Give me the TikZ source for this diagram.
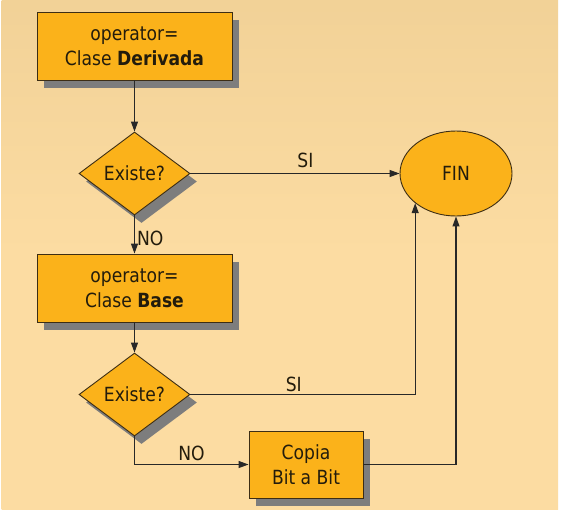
\documentclass[tikz,border=0pt]{standalone}
\usepackage{fontspec}
\setmainfont{DejaVu Sans}[FakeStretch=0.88]
\usetikzlibrary{shapes.geometric,shadows,arrows.meta}
\definecolor{bgtop}{RGB}{231,199,140}
\definecolor{bgmid}{RGB}{252,220,162}
\definecolor{bgbot}{RGB}{255,243,224}
\definecolor{boxfill}{RGB}{251,178,26}
\definecolor{edge}{RGB}{60,45,20}
\definecolor{shadowgray}{RGB}{125,125,125}
\definecolor{txt}{RGB}{35,28,12}
\definecolor{linec}{RGB}{40,40,40}
\pgfdeclareverticalshading{bgshade}{100bp}{color(0bp)=(bgbot); color(7bp)=(bgmid); color(50bp)=(bgmid); color(100bp)=(bgtop)}
\tikzset{
  shapebase/.style={draw=edge, fill=boxfill, line width=0.9pt, inner sep=0pt, text=txt,
    align=center, font=\fontsize{19.5}{25}\selectfont},
  shadowed/.style={drop shadow={shadow xshift=7pt, shadow yshift=-8pt, fill=shadowgray, opacity=1}},
  procbox/.style={shapebase, shadowed, rectangle, minimum width=195pt, minimum height=68pt},
  decision/.style={shapebase, shadowed, diamond, aspect=1.33, minimum width=111pt, minimum height=83pt},
  endnode/.style={shapebase, ellipse, minimum width=112pt, minimum height=85pt},
  arr/.style={draw=linec, line width=1.1pt, -{Triangle[length=10pt,width=7pt]}},
  lbl/.style={text=txt, font=\fontsize{19.5}{22}\selectfont, inner sep=2pt}
}
\begin{document}
\begin{tikzpicture}[x=1pt,y=-1pt]
\useasboundingbox (0,0) rectangle (561,509);
\fill[white] (0,0) rectangle (561,509);
\shade[shading=bgshade] (1.5,0) rectangle (558,509);

\node[procbox] (b1) at (134.5,46) {operator=\\Clase \textbf{Derivada}};
\node[decision] (d1) at (134.5,173.5) {Existe?};
\node[endnode] (fin) at (456,173.5) {FIN};
\node[procbox] (b2) at (134.5,288) {operator=\\Clase \textbf{Base}};
\node[decision] (d2) at (134.5,394.5) {Existe?};
\node[procbox, minimum width=114pt, minimum height=67pt] (b3) at (306,464.5) {Copia\\Bit a Bit};

\draw[arr] (b1) -- (d1);
\draw[arr] (d1) -- node[lbl, above, pos=0.55, yshift=3pt] {SI} (fin);
\draw[arr] (d1) -- node[lbl, right, pos=0.6] {NO} (b2);
\draw[arr] (b2) -- (d2);
\draw[arr] (d2.east) -| node[lbl, above, pos=0.23] {SI} (fin.216.6);
\draw[arr] (d2.south) |- node[lbl, above, pos=0.75, yshift=1pt] {NO} (b3.west);
\draw[arr] (b3.east) -| (fin.south);
\end{tikzpicture}
\end{document}
